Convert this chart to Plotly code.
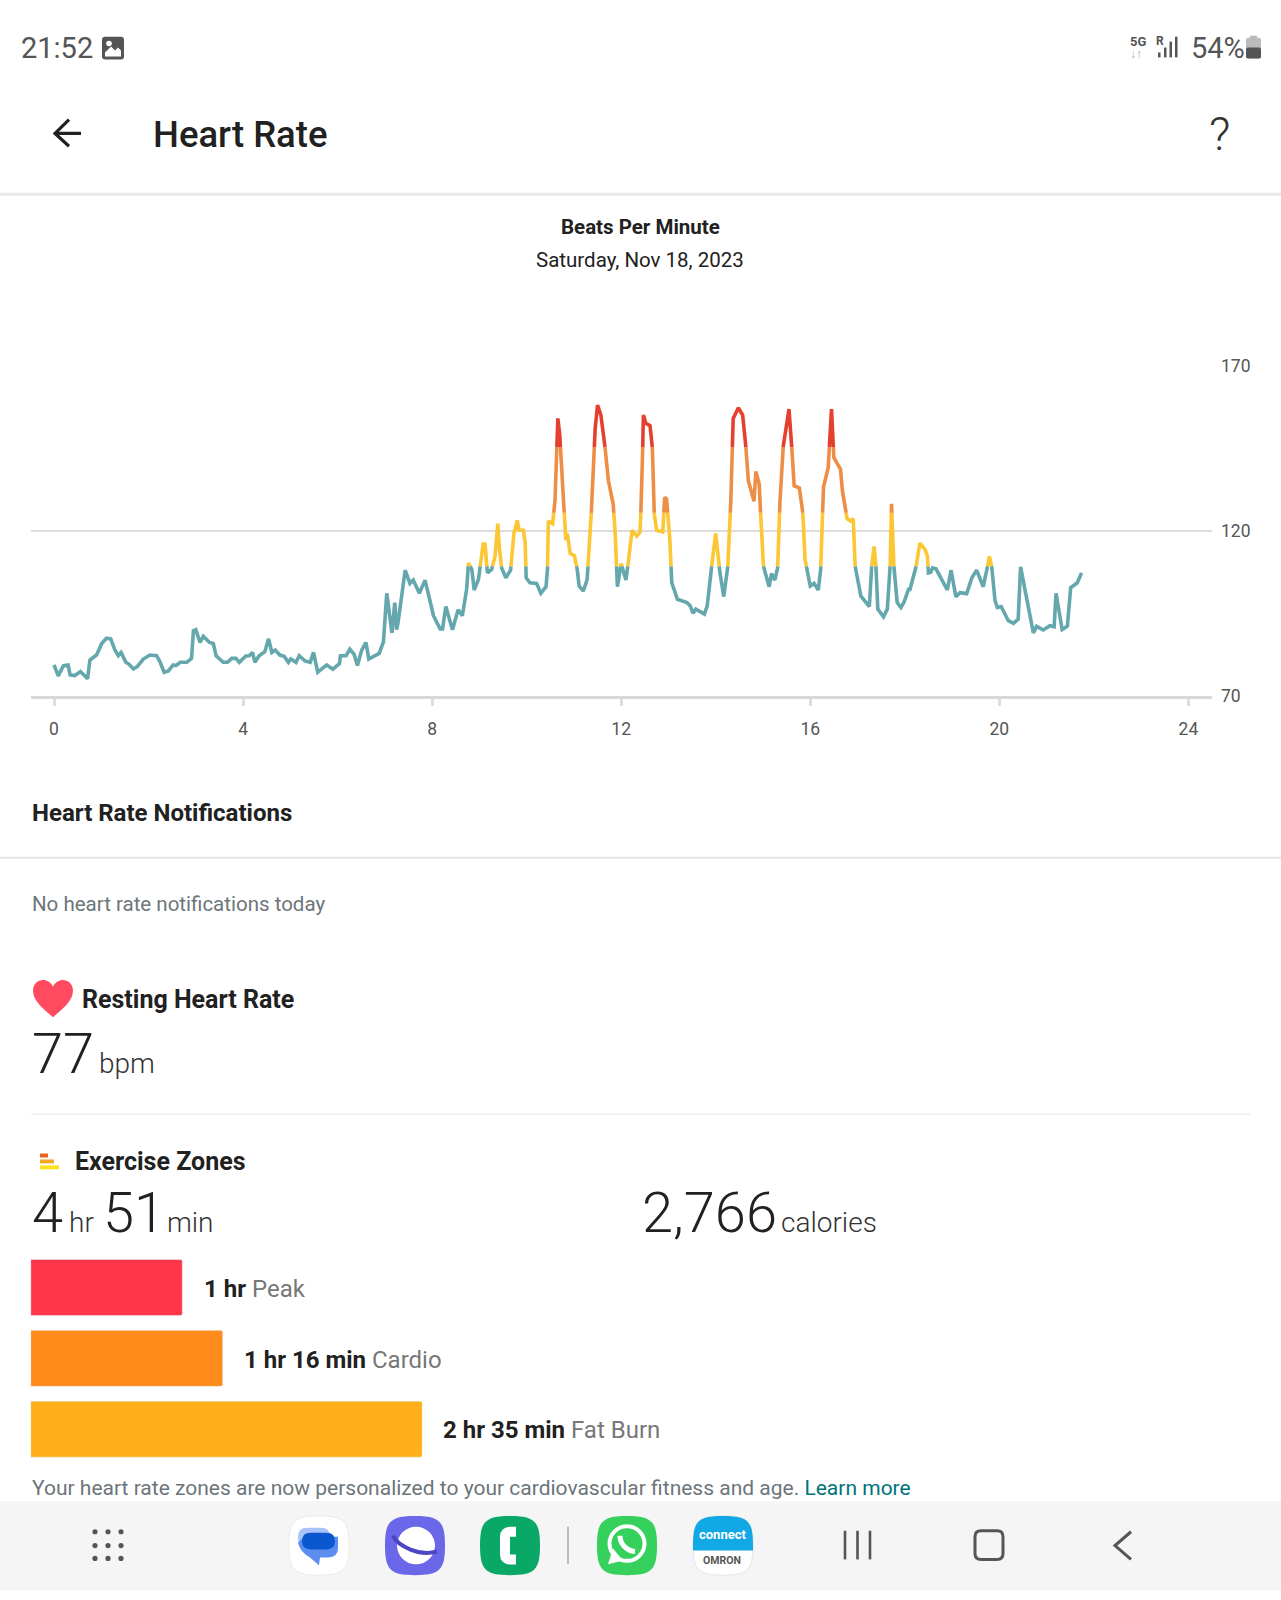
import plotly.graph_objects as go

# heart rate: hour of day, bpm
hours = [0, .09, .20, .30, .34, .44, .56, .71, .76, .90, 1.01, 1.11, 1.20, 1.29, 1.36, 1.42, 1.52, 1.59, 1.68, 1.76,
         1.89, 2.03, 2.17, 2.24, 2.33, 2.42, 2.52, 2.58, 2.67, 2.81, 2.91, 2.95, 3.0, 3.09, 3.16, 3.29, 3.37, 3.43, 3.58, 3.67,
         3.76, 3.85, 3.92, 4.06, 4.13, 4.2, 4.25, 4.34, 4.46, 4.54, 4.61, 4.68, 4.78, 4.87, 4.96, 5.01, 5.12, 5.19, 5.31, 5.42,
         5.49, 5.58, 5.77, 5.9, 6.04, 6.06, 6.18, 6.26, 6.35, 6.42, 6.51, 6.6, 6.66, 6.88, 6.97, 7.04, 7.15, 7.21, 7.25, 7.28,
         7.43, 7.53, 7.6, 7.73, 7.85, 8.03, 8.17, 8.22, 8.29, 8.43, 8.55, 8.64, 8.73, 8.77, 8.84, 8.89, 8.98, 9.08, 9.12, 9.17,
         9.26, 9.33, 9.39, 9.42, 9.47, 9.56, 9.66, 9.73, 9.8, 9.84, 9.93, 9.97, 9.99, 10.07, 10.21, 10.3, 10.41, 10.44, 10.46, 10.55,
         10.6, 10.66, 10.7, 10.8, 10.83, 10.86, 10.92, 11.01, 11.07, 11.11, 11.2, 11.28, 11.37, 11.45, 11.5, 11.57, 11.66, 11.73, 11.83, 11.87,
         11.92, 12.0, 12.1, 12.17, 12.23, 12.33, 12.4, 12.44, 12.47, 12.52, 12.61, 12.66, 12.7, 12.75, 12.88, 12.92, 12.96, 13.03, 13.07, 13.19,
         13.39, 13.46, 13.52, 13.58, 13.76, 13.82, 13.91, 14.0, 14.09, 14.17, 14.25, 14.32, 14.37, 14.48, 14.57, 14.64, 14.69, 14.81, 14.85, 14.92,
         14.97, 15.01, 15.13, 15.18, 15.25, 15.31, 15.36, 15.43, 15.55, 15.61, 15.66, 15.77, 15.84, 15.89, 16.0, 16.08, 16.17, 16.22, 16.28, 16.38,
         16.45, 16.5, 16.64, 16.68, 16.78, 16.85, 16.91, 16.95, 17.07, 17.25, 17.3, 17.35, 17.39, 17.43, 17.55, 17.63, 17.69, 17.72, 17.77, 17.84,
         17.92, 17.98, 18.08, 18.11, 18.24, 18.32, 18.43, 18.48, 18.5, 18.55, 18.59, 18.66, 18.9, 18.98, 19.08, 19.17, 19.31, 19.42, 19.52, 19.66,
         19.75, 19.79, 19.84, 19.91, 19.96, 20.04, 20.19, 20.3, 20.4, 20.45, 20.72, 20.79, 20.93, 21.07, 21.16, 21.2, 21.33, 21.44, 21.51, 21.65, 21.74]
bpm = [79.5, 76.2, 79.3, 79.5, 76.5, 76.3, 77.5, 75.3, 81, 82.5, 86, 87.6, 87.4, 84, 82.3, 83.3, 80.3, 79.7, 78.3, 79,
       81.3, 82.5, 82.3, 80.5, 77.3, 77.7, 79.5, 79.3, 80.3, 80.3, 81.5, 89.9, 90.2, 86.3, 88.2, 86.3, 86, 82.3, 80.3, 80.3,
       81.5, 81.5, 80.3, 82.2, 82.3, 83.3, 80.3, 82.3, 83.5, 87.4, 83.3, 84, 82.5, 82.1, 80.3, 81.3, 80.3, 82.3, 80.7, 80.3,
       83.3, 77.3, 79.5, 78.2, 79.9, 82.3, 82.3, 84.3, 82.7, 79.3, 84, 86.3, 81.3, 83, 86.5, 101.2, 89.2, 98.4, 90.2, 92.4,
       108.2, 104.2, 105.2, 101.2, 105.2, 94.4, 90.4, 90.4, 97.2, 90.2, 96.2, 94.4, 102.4, 110.4, 108.4, 102.2, 105.4, 116.1, 116.1, 107.4,
       108.4, 112.4, 122.3, 115.3, 108.9, 105.9, 108.2, 119.3, 123.3, 120.3, 120.3, 116.3, 105.9, 104.4, 104.2, 101.2, 103.2, 108.4, 123.1, 122.3,
       129.3, 154.2, 149.2, 124.3, 117.3, 119.3, 113.3, 112.6, 108.4, 103.4, 101.9, 105.4, 126.3, 151.2, 158.2, 155.2, 145.2, 135.3, 128.3, 120.3,
       103.2, 110.2, 105.2, 112.4, 120.3, 118.5, 119.8, 134.3, 155.2, 152.7, 152, 145.2, 125.3, 120.3, 119.8, 130.3, 129.8, 117.3, 104.4, 99.4,
       98.4, 97.4, 95.2, 96.4, 94.9, 97.4, 108.9, 119.3, 107.4, 100.2, 107.4, 129.3, 154.2, 157.4, 155.2, 145.2, 135.3, 129.1, 138.1, 134.3,
       119.3, 109.4, 103.2, 107.2, 105.2, 108.9, 129.3, 145.8, 157, 145.2, 133.8, 133.1, 126.3, 111.4, 103.4, 104.2, 102.2, 108.4, 133.3, 139.3,
       157, 142.3, 138.8, 132.3, 123.8, 123.1, 123.8, 109.4, 100.4, 97.2, 109.4, 115.4, 109.4, 96.4, 94.1, 96.4, 109.4, 128.3, 109.4, 98.4,
       96.9, 98.4, 102.4, 102.4, 109.4, 116.4, 114.4, 112.4, 107.4, 107.6, 108.9, 108.6, 102.2, 108.2, 100.2, 101.4, 101.1, 105.9, 108.2, 103.2,
       109.2, 112.4, 109.2, 98.9, 96.9, 97.2, 92.9, 92.1, 93.4, 109.2, 89.2, 91.2, 90.1, 91.4, 91.1, 101.2, 90.2, 91.2, 102.9, 104.4, 107.4]

zone_limits = [0, 109.4, 125.6, 145.5, 999]
zone_colors = ["#64A8AE", "#FBC734", "#EE8E45", "#E5402F"]

hour_ticks = [0, 4, 8, 12, 16, 20, 24]
dot_hours = [2, 6, 10, 14, 18, 22]
bpm_ticks = [70, 120, 170]

zone_names = ["Peak", "Cardio", "Fat Burn"]
zone_minutes = [60, 76, 155]
zone_times = ["1 hr", "1 hr 16 min", "2 hr 35 min"]
bar_colors = ["#FF354A", "#FF8C1B", "#FFB01B"]

W, H = 1281, 1600
FONT = "Roboto"
fig = go.Figure()
shapes = []
notes = []


def split_zone(lo, hi):
    # keep the parts of the line inside one zone, cut exactly on the limits
    xs, ys = [], []
    for i in range(len(hours) - 1):
        x0, y0, x1, y1 = hours[i], bpm[i], hours[i + 1], bpm[i + 1]
        cuts = [(x0, y0)]
        for lim in sorted([lo, hi], reverse=y0 > y1):
            if min(y0, y1) < lim < max(y0, y1):
                cuts.append((x0 + (lim - y0) / (y1 - y0) * (x1 - x0), lim))
        cuts.append((x1, y1))
        for a, b in zip(cuts[:-1], cuts[1:]):
            if lo <= (a[1] + b[1]) / 2 <= hi:
                if xs and xs[-1] == a[0] and ys[-1] == a[1]:
                    xs.append(b[0]); ys.append(b[1])
                else:
                    xs += [None, a[0], b[0]]; ys += [None, a[1], b[1]]
    return xs, ys


for z in range(4):
    zx, zy = split_zone(zone_limits[z], zone_limits[z + 1])
    fig.add_trace(go.Scatter(x=zx, y=zy, mode="lines", line=dict(color=zone_colors[z], width=3.6),
                             showlegend=False, hoverinfo="skip"))

fig.add_trace(go.Scatter(x=dot_hours, y=[60.7] * len(dot_hours), mode="markers", cliponaxis=False,
                         marker=dict(color="#DCDCDC", size=7.5), showlegend=False, hoverinfo="skip"))

fig.add_trace(go.Bar(x=zone_minutes, y=zone_names, orientation="h", marker_color=bar_colors,
                     xaxis="x2", yaxis="y2", showlegend=False, hoverinfo="skip"))


def rect(x0, y0, x1, y1, color, r=0):
    if r:
        p = (f"M{x0+r},{y0} L{x1-r},{y0} Q{x1},{y0} {x1},{y0+r} L{x1},{y1-r} Q{x1},{y1} {x1-r},{y1} "
             f"L{x0+r},{y1} Q{x0},{y1} {x0},{y1-r} L{x0},{y0+r} Q{x0},{y0} {x0+r},{y0} Z")
        path(p, fill=color)
    else:
        shapes.append(dict(type="rect", x0=x0, y0=y0, x1=x1, y1=y1, xref="x3", yref="y3",
                           fillcolor=color, line_width=0))


def path(p, fill=None, stroke=None, width=0):
    shapes.append(dict(type="path", path=p, xref="x3", yref="y3", fillcolor=fill if fill else "rgba(0,0,0,0)",
                       line=dict(color=stroke if stroke else "rgba(0,0,0,0)", width=width)))


def circle(cx, cy, r, fill=None, stroke=None, width=0):
    shapes.append(dict(type="circle", x0=cx - r, y0=cy - r, x1=cx + r, y1=cy + r, xref="x3", yref="y3",
                       fillcolor=fill if fill else "rgba(0,0,0,0)",
                       line=dict(color=stroke if stroke else "rgba(0,0,0,0)", width=width)))


def squircle(cx, cy, r):
    k = 0.82 * r
    return (f"M{cx-r},{cy} C{cx-r},{cy-k} {cx-k},{cy-r} {cx},{cy-r} C{cx+k},{cy-r} {cx+r},{cy-k} {cx+r},{cy} "
            f"C{cx+r},{cy+k} {cx+k},{cy+r} {cx},{cy+r} C{cx-k},{cy+r} {cx-r},{cy+k} {cx-r},{cy} Z")


def txt(x, y, s, size, color="#212121", weight=400, anchor="left"):
    notes.append(dict(x=x, y=y, text=s, xref="x3", yref="y3", xanchor=anchor, yanchor="middle", showarrow=False,
                      font=dict(family=FONT, size=size, color=color, weight=weight), borderpad=0))


# status bar
txt(20, 38, "21:52", 29, "#555555")
rect(102, 27, 124, 50, "#555555", 3)
circle(109, 34, 2.8, "white")
path("M105,47 L105,43 L111,37 L115,41 L118,38 L121,41 L121,47 Z", fill="white")
txt(1129, 32, "5G", 13, "#555555", 700)
txt(1129, 45, "↓↑", 12, "#aaaaaa", 700)
txt(1155, 31, "R", 12, "#555555", 700)
for bx, top in zip([1158, 1164, 1169.5, 1175], [43, 38, 32, 27]):
    rect(bx, top, bx + 2.5, 48, "#555555")
txt(1190, 38, "54%", 29, "#555555")
rect(1250, 26, 1257, 30, "#BBBBBB")
rect(1246, 28, 1261, 49, "#BBBBBB", 2)
rect(1246, 38, 1261, 49, "#555555", 2)

# header
path("M81,125 L56,125 M69,111 L55,125 L69,138", stroke="#212121", width=3.2)
txt(152, 126, "Heart Rate", 36.5, "#212121", 500)
txt(1219, 125, "?", 47, "#333333", 300, "center")
rect(0, 185, W, 188, "#E8E8E8")
txt(640, 220, "Beats Per Minute", 20.5, "#212121", 700, "center")
txt(640, 253, "Saturday, Nov 18, 2023", 20.5, "#212121", 400, "center")

# lower sections
txt(30.6, 813, "Heart Rate Notifications", 24, "#212121", 700)
rect(0, 857.5, W, 859.5, "#E4E4E4")
txt(30.6, 905, "No heart rate notifications today", 20.5, "#6C757A")
path("M53,1020 C44,1012 33,1004 33,993 C33,981 48,978 53,989 C58,978 73,981 73,993 C73,1004 62,1012 53,1020 Z",
     fill="#FF4A5F")
txt(81, 1002, "Resting Heart Rate", 25, "#212121", 700)
txt(31, 1057, "77", 56, "#212121", 300)
txt(98, 1067, "bpm", 28, "#333333", 300)
rect(31, 1117.5, 1250, 1119, "#EEEEEE")
rect(40, 1158, 48, 1162, "#E8601C")
rect(40, 1164, 54, 1168, "#F5A623")
rect(40, 1170, 59, 1174, "#FFE01B")
txt(74, 1166, "Exercise Zones", 25, "#212121", 700)
txt(31, 1218, "4", 56, "#212121", 300)
txt(68, 1228, "hr", 28, "#333333", 300)
txt(102, 1218, "51", 56, "#212121", 300)
txt(166, 1228, "min", 28, "#333333", 300)
txt(641, 1218, "2,766", 56, "#212121", 300)
txt(780, 1228, "calories", 28, "#333333", 300)
for i, lx in enumerate([203, 242.5, 441.5]):
    txt(lx, 1295 + 71.7 * i, f"<b>{zone_times[i]}</b> <span style='color:#777777'>{zone_names[i]}</span>", 24)
txt(30.6, 1497, "Your heart rate zones are now personalized to your cardiovascular fitness and age. "
                "<span style='color:#00737A'>Learn more</span>", 21, "#6C757A")

# navigation bar
rect(0, 1510, W, H, "#F5F5F5")
for dx in [95, 108, 121]:
    for dy in [1541, 1555, 1568]:
        circle(dx, dy, 2.6, "#555555")
# messages
path(squircle(319, 1555, 30), fill="white", stroke="#ECECEC", width=1)
rect(298, 1537, 330, 1556, "#A9C3F9", 9)
path("M304,1546 L338,1546 L338,1558 Q338,1567 328,1567 L320,1567 L319,1575 L310,1567 Q300,1562 298,1552 Z", fill="#5D8DF0")
rect(302, 1542, 335, 1559, "#0B57D0", 8.5)
# internet
path(squircle(415, 1555, 30), fill="#6A68E8")
circle(416, 1555, 19, "white")
path("M393,1545 C398,1556 420,1566 437,1561", stroke="#4E45C4", width=4)
# call
path(squircle(510, 1555, 30), fill="#0AA866")
path("M516,1541 L510,1541 Q505,1541 505,1546 L505,1564 Q505,1569 510,1569 L516,1569", stroke="white", width=10)
rect(567, 1536, 569, 1574, "#BBBBBB")
# whatsapp
path(squircle(627, 1555, 30), fill="#36D05C")
circle(627, 1553, 17.5, None, "white", 4)
path("M608,1574 L613,1558 L623,1570 Z", fill="white")
path("M620,1545 C620,1553 626,1560 635,1561", stroke="white", width=5)
# omron
path(squircle(723, 1555, 30), fill="white", stroke="#E6E6E6", width=1)
path("M693,1560 L693,1555 C693,1530 698,1525 723,1525 C748,1525 753,1530 753,1555 L753,1560 Z", fill="#12A8E6")
txt(722, 1544, "connect", 13, "white", 700, "center")
txt(722, 1570, "OMRON", 10.5, "#555555", 700, "center")
# back / home / recent
for nx in [845, 857.5, 870]:
    rect(nx - 1.3, 1540, nx + 1.3, 1569, "#555555")
path("M981,1540 L997,1540 Q1003,1540 1003,1546 L1003,1563 Q1003,1569 997,1569 L981,1569 Q975,1569 975,1563 "
     "L975,1546 Q975,1540 981,1540 Z", stroke="#555555", width=3)
path("M1131,1541 L1115,1555 L1131,1569", stroke="#555555", width=3)

fig.update_layout(
    width=W, height=H, margin=dict(l=0, r=0, t=0, b=0), paper_bgcolor="white", plot_bgcolor="rgba(0,0,0,0)",
    font=dict(family=FONT), shapes=shapes, annotations=notes, barcornerradius=2, bargap=0.209,
    xaxis=dict(domain=[30.7 / W, 1212 / W], range=[-0.493, 24.5], tickvals=hour_ticks, ticks="outside", ticklen=7,
               tickwidth=3, tickcolor="#DEDEE0", showgrid=False, showline=True, linecolor="#D8D8DC", linewidth=3,
               zeroline=False, tickfont=dict(size=17.5, color="#555555"), ticklabelstandoff=8, fixedrange=True),
    yaxis=dict(domain=[1 - 695 / H, 1 - 360.7 / H], range=[70, 170], side="right", tickvals=bpm_ticks, ticks="",
               showgrid=True, gridcolor="#DCDCDC", gridwidth=1.6, zeroline=False, showline=False,
               tickfont=dict(size=17.5, color="#555555"), ticklabelstandoff=8, fixedrange=True),
    xaxis2=dict(domain=[30.7 / W, 422.3 / W], range=[0, 155], visible=False, anchor="y2", fixedrange=True),
    yaxis2=dict(domain=[1 - 1473 / H, 1 - 1257.8 / H], autorange="reversed", visible=False, anchor="x2", fixedrange=True),
    xaxis3=dict(domain=[0, 1], range=[0, W], visible=False, anchor="y3", fixedrange=True),
    yaxis3=dict(domain=[0, 1], range=[H, 0], visible=False, anchor="x3", fixedrange=True),
)
fig.add_trace(go.Scatter(x=[0], y=[0], xaxis="x3", yaxis="y3", mode="markers", marker_opacity=0, showlegend=False,
                         hoverinfo="skip"))

fig.write_html("out.html", post_script="document.body.style.margin='0';", config={"displayModeBar": False})
